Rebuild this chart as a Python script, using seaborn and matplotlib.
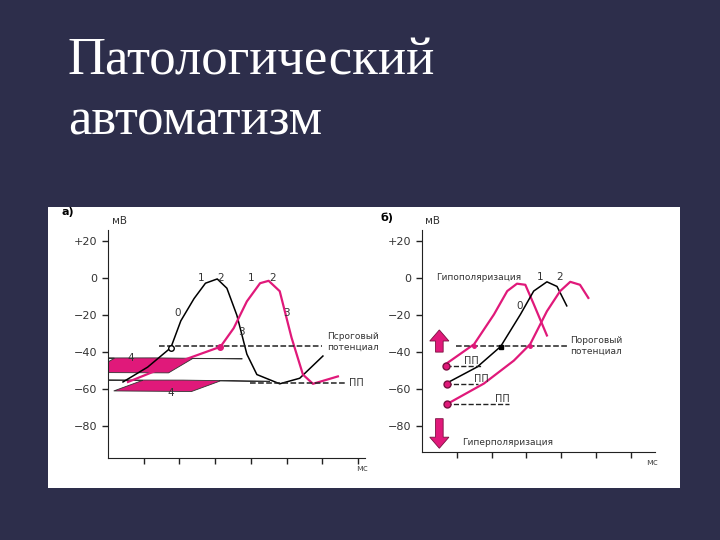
import numpy as np
import pandas as pd
import seaborn as sns
import matplotlib.pyplot as plt
from matplotlib.patches import FancyArrow

# panel a) curves (x in ms-ticks, y in mV)
a_black_x = [0.42, 1.11, 1.76, 2.04, 2.41, 2.73, 3.06, 3.33, 3.61, 3.89, 4.17, 4.81, 5.37, 6.02]
a_black_y = [-56, -48, -37.5, -23, -11, -2.7, -0.4, -5.4, -20, -41, -52, -57, -54, -42]
a_pink_x = [0.56, 1.85, 3.15, 3.52, 3.89, 4.26, 4.5, 4.81, 5.14, 5.46, 5.74, 6.44]
a_pink_y = [-56, -46, -37, -27, -12.5, -2.7, -1.4, -7, -32, -52, -57, -53]

# panel б) curves
b_hypo_x = [0.69, 1.5, 2.07, 2.45, 2.73, 2.97, 3.21, 3.59]
b_hypo_y = [-46.4, -35.7, -19.6, -7, -3, -3.6, -14, -31]
b_black_x = [0.73, 1.59, 2.26, 2.83, 3.21, 3.59, 3.88, 4.16]
b_black_y = [-56.6, -48, -37, -19.6, -7, -2, -4.5, -15]
b_hyper_x = [0.73, 1.78, 2.64, 3.11, 3.59, 3.97, 4.26, 4.54, 4.78]
b_hyper_y = [-68, -57, -44.6, -35.7, -17.9, -7, -2, -3.6, -10.7]

y_ticks = [20, 0, -20, -40, -60, -80]
y_labels = ["+20", "0", "−20", "−40", "−60", "−80"]
threshold = -36.5
rest_a = -56.5
rest_b = [-47.5, -57, -68]

PINK = "#e0197a"
BG = "#2d2e4b"

fig = plt.figure(figsize=(7.2, 5.4), dpi=100, facecolor=BG)
fig.text(0.094, 0.887, "Патологический", color="white", fontsize=38,
         family="Liberation Serif", va="center")
fig.text(0.094, 0.775, "автоматизм", color="white", fontsize=38,
         family="Liberation Serif", va="center")

# white picture panel behind the two charts
bg = fig.add_axes([48 / 720, 1 - 488 / 540, 632 / 720, 281 / 540], zorder=0)
bg.set_facecolor("white")
bg.axis("off")
bg.add_patch(plt.Rectangle((0, 0), 1, 1, transform=bg.transAxes, color="white"))

def style(ax, ylow, xmax):
    ax.set_facecolor("none")
    ax.set_ylim(ylow, 26)
    ax.set_xlim(0, xmax)
    ax.set_yticks(y_ticks)
    ax.set_yticklabels(y_labels, fontsize=8, color="#333")
    ax.set_xticks(range(1, int(xmax) + 1))
    ax.set_xticklabels([])
    ax.tick_params(length=4, width=1, color="#222")
    for s in ["top", "right"]:
        ax.spines[s].set_visible(False)
    for s in ["left", "bottom"]:
        ax.spines[s].set_color("#222")
    ax.text(0.1, 29, "мВ", fontsize=7.5, color="#333", ha="left")
    ax.text(xmax - 0.25, ylow - 7, "мс", fontsize=6.5, color="#555")
    ax.set_xlabel("")
    ax.set_ylabel("")

# panel a
ax1 = fig.add_axes([0.150, 0.152, 0.357, 0.422], zorder=2)
sns.lineplot(x=a_black_x, y=a_black_y, sort=False, color="black", lw=1.1, ax=ax1)
sns.lineplot(x=a_pink_x, y=a_pink_y, sort=False, color=PINK, lw=1.6, ax=ax1)
ax1.plot([1.44, 6.0], [threshold] * 2, ls="--", color="#222", lw=1.1)
ax1.plot([3.98, 6.67], [rest_a] * 2, ls="--", color="#222", lw=1.1)
ax1.plot([1.76], [-37.5], "o", mfc="white", mec="black", ms=4)
ax1.plot([3.15], [-37], "o", mfc=PINK, mec=PINK, ms=4)
style(ax1, -97, 7.2)
ax1.text(-1.3, 34, "а)", fontsize=8, fontweight="bold")
ax1.text(6.15, -34.5, "Псроговый\nпотенциал", fontsize=6.5, color="#333", va="center")
ax1.text(6.75, -56.5, "ПП", fontsize=7, color="#333", va="center")
for x, y, t in [(2.6, 0, "1"), (3.15, 0, "2"), (4.0, 0, "1"), (4.6, 0, "2"),
                (1.95, -19, "0"), (5.0, -19, "3"), (3.75, -29, "3"),
                (0.65, -43, "4"), (1.75, -62, "4")]:
    ax1.text(x, y, t, fontsize=7.5, color="#333", ha="center", va="center")
for (x, y, dx, dy) in [(0.6, -51, 0.7, 8), (1.25, -61, 0.85, 6)]:
    ax1.add_patch(FancyArrow(x, y, dx, dy, width=2.2, head_width=5, head_length=0.3,
                             length_includes_head=True, facecolor=PINK,
                             edgecolor="#333", lw=0.6))

# panel б
ax2 = fig.add_axes([0.586, 0.163, 0.324, 0.411], zorder=2)
sns.lineplot(x=b_hypo_x, y=b_hypo_y, sort=False, color=PINK, lw=1.6, ax=ax2)
sns.lineplot(x=b_black_x, y=b_black_y, sort=False, color="black", lw=1.1, ax=ax2)
sns.lineplot(x=b_hyper_x, y=b_hyper_y, sort=False, color=PINK, lw=1.6, ax=ax2)
ax2.plot([0.97, 4.16], [threshold] * 2, ls="--", color="#222", lw=1.1)
for y, x_end, xl in zip(rest_b, [1.7, 1.6, 2.5], [1.2, 1.5, 2.1]):
    ax2.plot([0.69, x_end], [y, y], ls="--", color="#222", lw=1.0)
    ax2.text(xl, y + 2.5, "ПП", fontsize=7, color="#333", va="center")
ax2.plot([0.69, 0.73, 0.73], [-47.5, -57, -68], "o", color=PINK, mec="#7a1040", ms=5)
ax2.plot([2.26], [-37], "s", color="black", ms=3)
ax2.plot([1.5, 3.11], [-36.5, -36.5], "o", color=PINK, ms=2.5)
style(ax2, -94, 6.7)
ax2.text(-1.2, 31, "б)", fontsize=8, fontweight="bold")
ax2.text(4.25, -36.5, "Пороговый\nпотенциал", fontsize=6.5, color="#333", va="center")
ax2.text(0.4, 0.5, "Гипополяризация", fontsize=6.5, color="#333", va="center")
ax2.text(1.15, -89, "Гиперполяризация", fontsize=6.5, color="#333", va="center")
ax2.text(3.3, 0.5, "1", fontsize=7.5, color="#333", va="center")
ax2.text(3.85, 0.5, "2", fontsize=7.5, color="#333", va="center")
ax2.text(2.7, -15, "0", fontsize=7.5, color="#333", va="center")
for (y, dy) in [(-40, 12), (-76, -16)]:
    ax2.add_patch(FancyArrow(0.5, y, 0, dy, width=0.22, head_width=0.55,
                             head_length=6, length_includes_head=True,
                             facecolor=PINK, edgecolor="#7a1040", lw=0.6))

fig.savefig("out.png", dpi=100, facecolor=BG)
